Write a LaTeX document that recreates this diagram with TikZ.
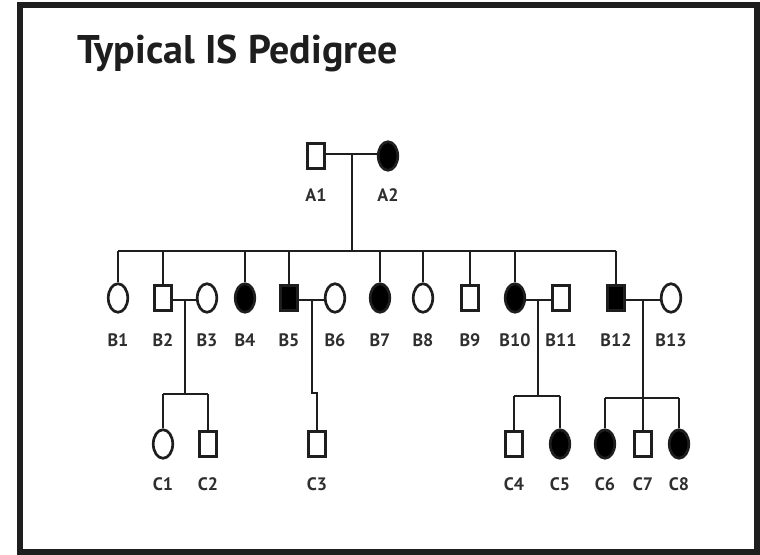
\documentclass[tikz,border=0pt]{standalone}
\usepackage{fontspec}
\setmainfont{PT Sans}
\usetikzlibrary{shapes.geometric}
\definecolor{ink}{HTML}{1E1E1E}
\definecolor{lbl}{HTML}{2E2E2E}
\tikzset{
  male/.style={draw=ink, line width=2.7pt, rectangle, minimum width=16.5pt, minimum height=25.5pt, inner sep=0pt},
  female/.style={draw=ink, line width=2.7pt, ellipse, minimum width=19.5pt, minimum height=28.5pt, inner sep=0pt},
  aff/.style={fill=black},
  lab/.style={font=\fontsize{18}{18}\selectfont\bfseries, text=lbl, inner sep=0pt},
  conn/.style={draw=ink, line width=2pt},
}
\begin{document}
\begin{tikzpicture}[x=1pt,y=-1pt]
\useasboundingbox (0,0) rectangle (760,554);
\draw[line width=6pt, draw=ink] (19.5,4.5) rectangle (757,551.5);
\node[anchor=base west, inner sep=0pt, text=ink, font=\fontsize{40}{40}\selectfont\bfseries] (title) at (77,63) {Typical IS Pedigree};
% generation A
\node[male] (A1) at (316,156) {};
\node[female,aff] (A2) at (388,156) {};
% generation B
\node[female] (B1) at (118,298) {};
\node[male] (B2) at (163,298) {};
\node[female] (B3) at (207,298) {};
\node[female,aff] (B4) at (245,298) {};
\node[male,aff] (B5) at (289,298) {};
\node[female] (B6) at (335,298) {};
\node[female,aff] (B7) at (380,298) {};
\node[female] (B8) at (423,298) {};
\node[male] (B9) at (470,298) {};
\node[female,aff] (B10) at (515,298) {};
\node[male] (B11) at (561,298) {};
\node[male,aff] (B12) at (616,298) {};
\node[female] (B13) at (671,298) {};
% generation C
\node[female] (C1) at (163,444) {};
\node[male] (C2) at (208,444) {};
\node[male] (C3) at (317,444) {};
\node[male] (C4) at (514,444) {};
\node[female,aff] (C5) at (560,444) {};
\node[female,aff] (C6) at (605,444) {};
\node[male] (C7) at (643,444) {};
\node[female,aff] (C8) at (679,444) {};
% labels
\foreach \n/\x in {A1/316,A2/388}{\node[lab] (l\n) at (\x,195) {\n};}
\foreach \n/\x in {B1/118,B2/163,B3/207,B4/245,B5/289,B6/335,B7/380,B8/423,B9/470,B10/515,B11/561,B12/616,B13/671}{\node[lab] (l\n) at (\x,340) {\n};}
\foreach \n/\x in {C1/163,C2/208,C3/317,C4/514,C5/560,C6/605,C7/643,C8/679}{\node[lab] (l\n) at (\x,484) {\n};}
% junction coordinates
\coordinate (mA) at (352,154);
\coordinate (sB) at (352,251);
\coordinate (m23) at (185,300);
\coordinate (s23) at (185,394);
\coordinate (m56) at (312,300);
\coordinate (j56) at (312,393);
\coordinate (m1011) at (538,300);
\coordinate (s1011) at (538,396);
\coordinate (m1213) at (643,300);
\coordinate (s1213) at (643,398);
% connectors A
\draw[conn] (A1.east |- mA) -- (A2.west |- mA);
\draw[conn] (mA) -- (sB);
\draw[conn] (B1.north |- sB) -- (B12.north |- sB);
\foreach \b in {B1,B2,B4,B5,B7,B8,B9,B10,B12}{\draw[conn] (\b.north |- sB) -- (\b.north);}
% B2 x B3
\draw[conn] (B2.east |- m23) -- (B3.west |- m23);
\draw[conn] (m23) -- (s23);
\draw[conn] (C1.north |- s23) -- (C2.north |- s23);
\draw[conn] (C1.north |- s23) -- (C1.north);
\draw[conn] (C2.north |- s23) -- (C2.north);
% B5 x B6
\draw[conn] (B5.east |- m56) -- (B6.west |- m56);
\draw[conn] (m56) -- (j56) -- (C3.north |- j56) -- (C3.north);
% B10 x B11
\draw[conn] (B10.east |- m1011) -- (B11.west |- m1011);
\draw[conn] (m1011) -- (s1011);
\draw[conn] (C4.north |- s1011) -- (C5.north |- s1011);
\draw[conn] (C4.north |- s1011) -- (C4.north);
\draw[conn] (C5.north |- s1011) -- (C5.north);
% B12 x B13
\draw[conn] (B12.east |- m1213) -- (B13.west |- m1213);
\draw[conn] (m1213) -- (C7.north);
\draw[conn] (C6.north |- s1213) -- (C8.north |- s1213);
\draw[conn] (C6.north |- s1213) -- (C6.north);
\draw[conn] (C8.north |- s1213) -- (C8.north);
\end{tikzpicture}
\end{document}
